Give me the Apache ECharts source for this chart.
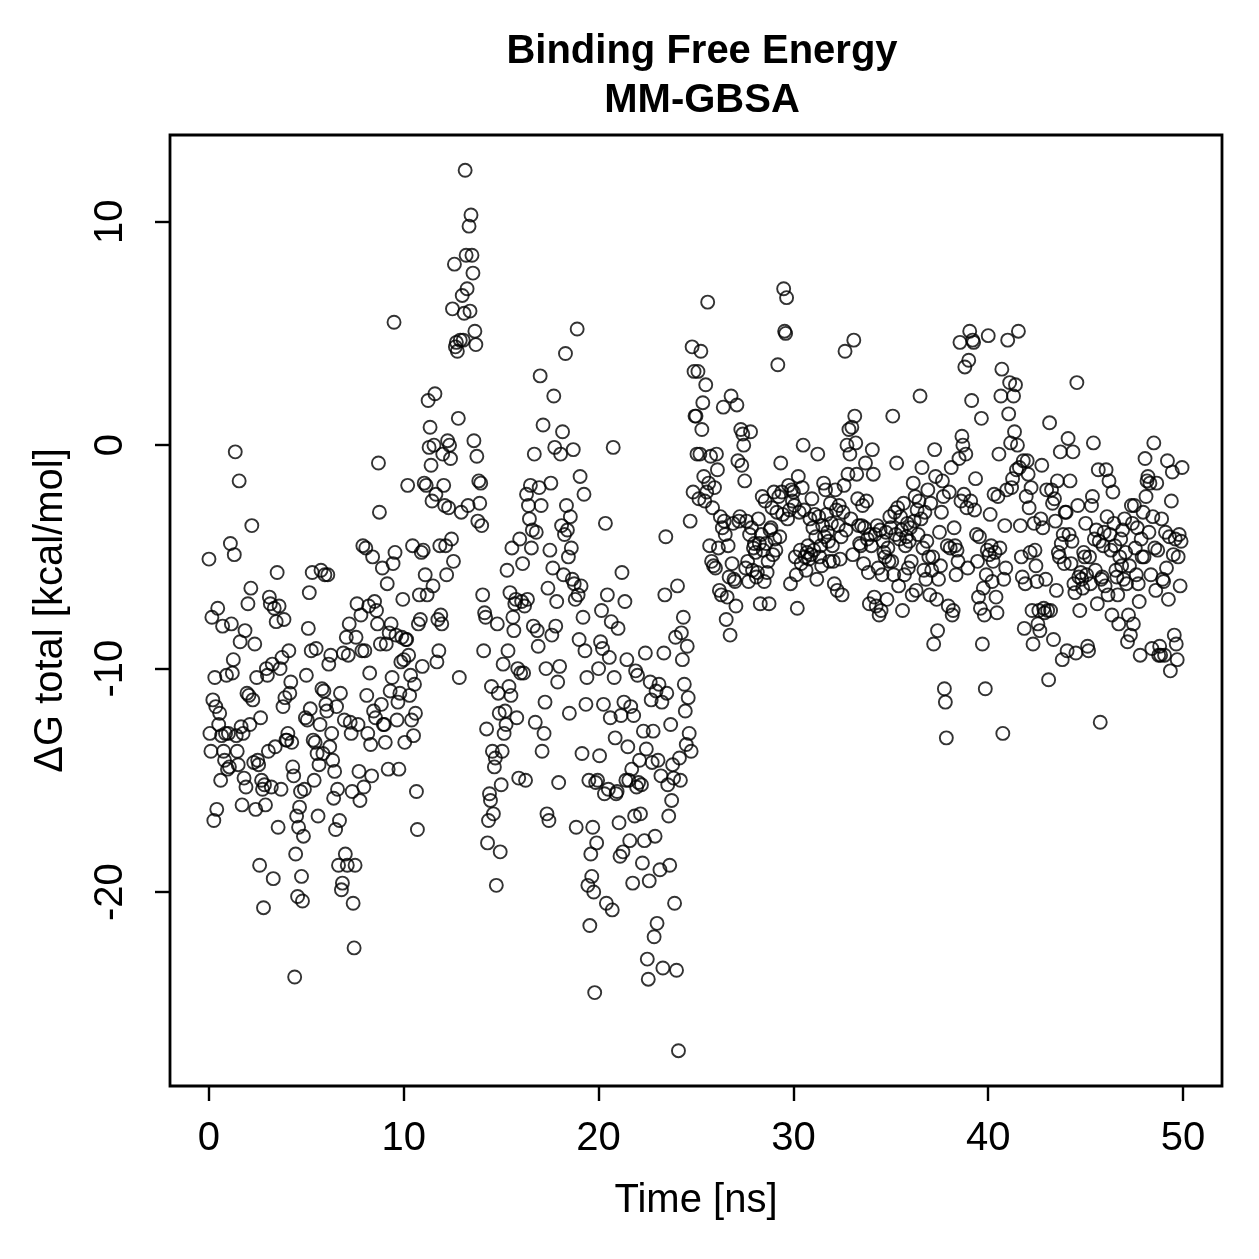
<!DOCTYPE html>
<html>
<head>
<meta charset="utf-8">
<script src="https://cdn.jsdelivr.net/npm/echarts@6/dist/echarts.min.js"></script>
<style>
  html, body { margin: 0; padding: 0; background: #fff; }
  #main { width: 1259px; height: 1259px; }
</style>
</head>
<body>
<div id="main"></div>
<script>
// one frame every 0.05 ns, 20 frames per ns
var dt = 0.05;

// dG total (kcal/mol), 0 - 10 ns
var dG_0_10 = [
  -5.1, -12.9, -13.7, -7.7, -11.4, -16.8, -10.4, -11.7, -16.3, -7.3, -12.5, -12.0, -15.0, -13.0, -8.1, -13.7, -14.1, -12.9, -10.3, -14.5,
  -12.9, -14.4, -4.4, -8.0, -10.2, -9.6, -4.9, -0.3, -13.0, -13.7, -14.3, -1.6, -8.8, -12.6, -16.1, -12.9, -14.9, -8.3, -15.3, -11.1,
  -7.1, -11.2, -12.5, -6.4, -3.6, -11.4, -14.2, -8.9, -16.3, -10.4, -14.1, -14.3, -18.8, -12.2, -15.0, -15.4, -20.7, -15.2, -16.1, -10.0,
  -10.3, -13.7, -6.8, -7.1, -15.3, -9.8, -19.4, -7.3, -13.5, -7.9, -5.7, -17.1, -7.2, -10.0, -15.4, -9.5, -11.7, -7.8, -11.3, -13.2,
  -13.2, -12.9, -9.2, -11.1, -10.6, -13.3, -14.4, -14.8, -23.8, -18.3, -16.6, -20.2, -17.1, -16.2, -15.5, -19.3, -20.4, -17.5, -15.4, -12.2,
  -10.3, -12.3, -8.2, -6.6, -11.8, -9.2, -5.7, -13.2, -15.0, -13.3, -9.1, -13.8, -16.6, -14.3, -12.5, -5.6, -10.9, -13.8, -11.0, -5.8,
  -11.6, -11.9, -5.8, -9.8, -13.5, -9.4, -12.9, -14.1, -15.8, -14.6, -17.2, -11.7, -15.4, -18.8, -16.8, -11.1, -19.9, -19.6, -9.3, -12.3,
  -18.3, -8.6, -18.8, -9.4, -8.0, -12.4, -12.9, -15.5, -20.5, -22.5, -18.8, -8.6, -7.1, -12.5, -14.6, -15.9, -7.6, -9.2, -4.5, -15.3,
  -9.2, -4.6, -11.2, -12.9, -7.2, -10.2, -13.4, -14.8, -5.0, -11.9, -7.0, -12.2, -7.4, -8.0, -0.8, -3.0, -8.9, -11.6, -5.5, -12.5,
  -12.5, -13.3, -8.9, -6.2, -14.5, -8.4, -11.0, -8.0, -10.4, -5.3, 5.5, -4.8, -8.5, -12.3, -11.5, -14.5, -11.1, -9.7, -8.6, -6.9
];

// 10 - 20 ns
var dG_10_20 = [
  -9.6, -13.3, -8.7, -8.7, -1.8, -9.4, -11.2, -10.3, -12.3, -4.5, -13.0, -10.7, -12.0, -15.5, -17.2, -8.0, -6.7, -7.8, -4.8, -9.9,
  -4.7, -1.7, -5.8, -1.8, -6.7, 2.0, -0.1, 0.8, -0.9, -2.5, -6.3, 0.0, 2.3, -2.2, -9.7, -7.8, -9.2, -4.5, -7.6, -8.0,
  -0.4, -1.8, -2.7, -4.5, -5.8, 0.2, -2.8, 0.0, -0.6, -4.2, 6.1, -5.2, 8.1, 4.4, 4.6, 4.2, 1.2, -10.4, 4.7, -3.0,
  6.7, 4.7, 5.9, 12.3, 8.5, 7.0, -2.7, 9.8, 6.0, 10.3, 8.5, 7.7, 0.2, 5.1, 4.5, -0.5, -3.4, -1.6, -2.6, -1.7,
  -3.6, -6.7, -9.2, -7.5, -7.7, -12.7, -17.8, -16.8, -15.6, -15.9, -10.8, -13.7, -16.5, -14.4, -14.0, -19.7, -8.0, -11.1, -12.0, -18.2,
  -15.2, -13.7, -9.8, -12.9, -11.9, -12.5, -5.6, -9.2, -10.8, -6.6, -11.2, -4.6, -7.7, -8.3, -7.1, -6.9, -12.2, -10.0, -14.9, -4.2,
  -10.2, -7.0, -5.3, -10.2, -7.2, -15.0, -2.2, -6.9, -2.7, -3.3, -1.8, -4.6, -3.8, -8.1, -0.4, -12.4, -3.9, -8.3, -9.0, -1.9,
  3.1, -2.7, -13.7, 0.9, -12.9, -11.5, -10.0, -16.5, -6.4, -16.8, -4.7, -1.7, -8.5, -5.5, 2.2, -0.1, -8.1, -7.0, -10.6, -15.1,
  -9.9, -0.4, -3.6, 0.6, -5.8, -4.0, 4.1, -2.7, -3.8, -5.0, -12.0, -3.2, -4.6, -6.0, -0.2, -6.2, -6.9, -17.1, 5.2, -6.7,
  -8.7, -1.4, -6.3, -13.8, -7.7, -2.2, -9.2, -11.6, -10.4, -19.7, -15.0, -21.5, -18.3, -19.3, -17.1, -20.0, -24.5, -15.1, -17.8, -15.0
];

// 20 - 30 ns
var dG_20_30 = [
  -10.0, -13.9, -8.8, -7.4, -9.1, -11.6, -15.6, -3.5, -20.5, -6.7, -15.4, -9.5, -12.2, -7.9, -20.8, -0.1, -10.4, -13.1, -15.6, -15.5,
  -8.2, -16.9, -18.4, -12.1, -5.7, -18.2, -11.5, -7.0, -15.0, -9.6, -13.5, -15.0, -17.7, -11.7, -14.5, -19.6, -12.1, -16.6, -10.1, -15.3,
  -10.3, -15.1, -14.1, -16.5, -15.2, -18.7, -12.8, -17.7, -9.3, -13.6, -23.0, -23.9, -19.5, -10.6, -11.4, -14.2, -12.8, -22.0, -17.5, -11.0,
  -21.4, -14.1, -10.7, -19.0, -14.8, -11.5, -23.4, -9.3, -6.7, -4.1, -11.1, -15.2, -16.6, -18.8, -12.5, -15.9, -14.3, -14.9, -20.5, -8.6,
  -23.5, -6.3, -27.1, -14.0, -15.0, -8.4, -9.6, -7.7, -10.7, -11.9, -13.4, -9.0, -11.3, -12.9, -3.4, -13.7, 4.4, -2.1, 3.3, 1.3,
  1.3, -0.4, 3.3, -2.4, -0.4, 4.2, 0.7, 1.9, -1.4, -2.5, 2.7, -2.1, 6.4, -1.7, -4.5, -0.5, -5.2, -2.8, -5.4, -1.9,
  -5.5, -0.4, -1.1, -4.6, -6.5, -3.2, -6.7, -3.7, 1.7, -3.4, -4.0, -7.8, -6.8, -4.5, -5.9, -8.5, 2.2, -5.3, -3.5, -6.0,
  -6.1, -7.2, 1.8, -0.7, -3.4, -3.2, 0.7, -0.9, 0.5, 0.0, -1.6, -5.5, -3.4, -5.2, -6.1, -4.0, 0.6, -3.7, -5.6, -4.6,
  -4.4, -4.8, -5.9, -5.7, -3.3, -4.4, -7.1, -4.0, -2.3, -4.7, -6.1, -2.5, -4.4, -5.7, -5.2, -7.1, -3.8, -3.7, -2.8, -4.9,
  -2.1, -4.2, -4.7, -3.0, 3.6, -2.3, -4.1, -0.8, -2.1, -3.1, 7.0, 5.1, 5.0, 6.6, -3.3, -1.8, -2.9, -6.2, -2.0, -2.5
];

// 30 - 40 ns
var dG_30_40 = [
  -2.1, -2.7, -5.0, -5.8, -7.3, -1.4, -3.0, -4.7, -5.3, -1.9, 0.0, -2.9, -5.0, -5.6, -4.8, -4.5, -5.1, -3.3, -4.9, -2.4,
  -3.7, -4.7, -3.1, -4.1, -6.0, -0.4, -3.2, -5.0, -4.5, -5.4, -3.6, -1.7, -4.1, -2.0, -3.1, -3.9, -4.3, -5.2, -2.6, -3.5,
  -4.5, -5.2, -6.2, -2.0, -2.9, -6.5, -3.6, -2.7, -5.1, -4.1, -6.7, -3.0, -1.8, 4.2, -3.8, 0.0, -1.3, 0.7, -0.4, -3.3,
  0.8, -4.9, 4.7, 1.3, 0.1, -1.3, -2.4, -3.6, -4.4, -4.5, -3.6, -2.7, -5.3, -3.7, -0.8, -2.5, -4.2, -5.7, -7.1, -4.0,
  -4.5, -0.2, -1.3, -6.8, -4.0, -7.2, -3.6, -5.5, -7.6, -3.8, -7.4, -5.8, -4.3, -4.8, -5.0, -3.9, -6.9, -4.6, -5.2, -3.2,
  -3.7, -5.2, 1.3, -5.8, -3.0, -4.0, -0.8, -2.8, -6.3, -4.2, -3.2, -3.8, -7.4, -2.6, -5.8, -4.5, -4.1, -3.5, -5.5, -4.3,
  -3.7, -5.2, -6.7, -1.7, -3.4, -2.3, -6.5, -2.9, -4.0, -2.5, 2.2, -3.3, -1.0, -4.6, -5.6, -3.0, -6.0, -4.3, -2.0, -5.0,
  -6.7, -2.6, -5.6, -5.0, -8.9, -0.2, -1.4, -6.9, -8.3, -6.0, -3.9, -5.4, -3.0, -1.6, -2.3, -10.9, -11.5, -13.1, -4.5, -7.2,
  -2.1, -4.6, -1.0, -7.6, -7.4, -3.7, -4.5, -5.8, -4.7, -5.2, -0.6, 4.6, -2.5, 0.4, 0.0, -2.2, 3.5, -0.4, -2.8, -5.5,
  3.8, 5.1, -2.5, 2.0, 4.7, 4.6, -2.9, -1.5, -4.0, -5.2, -6.8, -4.1, -7.3, 1.2, -8.9, -6.4, -7.6, -10.9, -5.8, -4.7
];

// 40 - 50 ns
var dG_40_50 = [
  4.9, -4.9, -3.1, -4.5, -6.1, -5.2, -2.2, -4.8, -6.8, -7.5, -2.3, -0.4, -4.6, 2.2, 3.4, -12.9, -6.0, -3.6, -5.5, -2.0,
  4.7, 1.4, 2.8, 0.1, -1.9, -1.5, 2.2, 0.6, 2.7, -1.1, 0.0, 5.1, -1.0, -3.6, -5.0, -5.9, -0.7, -8.2, -6.2, -2.3,
  -0.7, -1.3, -2.8, -4.8, -1.9, -7.4, -8.9, -3.5, -4.7, -5.4, -6.1, -8.0, -7.4, -8.3, -3.3, -0.9, -3.7, -7.3, -7.5, -6.0,
  -2.0, -7.4, -10.5, 1.0, -7.4, -2.0, -2.6, -8.7, -2.4, -3.4, -6.5, -1.6, -4.8, -5.0, -0.3, -4.4, -9.6, -4.0, -5.3, -3.0,
  -3.0, -9.2, 0.3, -4.0, -1.6, -5.3, -4.3, -0.3, -6.2, -6.6, -9.3, 2.8, -2.7, -5.9, -7.4, -5.7, -6.0, -6.4, -4.8, -5.0,
  -3.5, -5.8, -9.0, -9.2, -5.0, -6.2, -2.7, -2.3, 0.1, -4.2, -5.6, -3.8, -7.1, -1.1, -4.3, -12.4, -6.0, -5.9, -4.5, -3.9,
  -6.3, -1.1, -3.2, -6.7, -1.6, -4.0, -4.7, -7.6, -2.1, -3.5, -4.5, -5.6, -5.9, -6.7, -8.0, -5.0, -4.2, -5.4, -3.8, -6.0,
  -3.3, -4.8, -6.2, -8.8, -7.6, -5.4, -8.5, -2.7, -3.5, -8.0, -2.7, -4.6, -5.8, -3.7, -6.2, -7.0, -9.4, -4.2, -5.0, -3.0,
  -5.0, -0.6, -2.3, -1.6, -1.4, -3.9, -1.7, -5.8, -9.1, -3.2, 0.1, -4.6, -6.5, -1.7, -4.7, -9.4, -9.0, -9.4, -3.3, -6.0,
  -6.1, -9.4, -3.9, -5.5, -0.7, -6.9, -4.1, -10.1, -2.5, -1.2, -4.9, -8.5, -4.2, -8.9, -9.6, -5.0, -4.0, -6.3, -4.3, -1.0
];

var xTicks = [0, 10, 20, 30, 40, 50];
var yTicks = [-20, -10, 0, 10];

var dG = [].concat(dG_0_10, dG_10_20, dG_20_30, dG_30_40, dG_40_50);
var points = [];
for (var i = 0; i < dG.length; i++) {
  points.push([+(i * dt).toFixed(2), dG[i]]);
}

var font = 'Liberation Sans, Arial, Helvetica, sans-serif';

var myChart = echarts.init(document.getElementById('main'), null, { renderer: 'canvas' });

var option = {
  backgroundColor: '#ffffff',
  animation: false,
  title: {
    text: 'Binding Free Energy\nMM-GBSA',
    left: 697,
    textAlign: 'center',
    top: 22,
    textStyle: {
      fontFamily: font,
      fontWeight: 'bold',
      fontSize: 40,
      lineHeight: 49,
      color: '#000'
    }
  },
  grid: {
    left: 170,
    right: 37,
    top: 135,
    bottom: 173,
    show: true,
    borderColor: '#000',
    borderWidth: 2.8,
    backgroundColor: 'transparent'
  },
  xAxis: {
    type: 'value',
    min: -2,
    max: 52,
    name: 'Time [ns]',
    nameLocation: 'middle',
    nameGap: 95,
    nameTextStyle: { fontFamily: font, fontSize: 40, color: '#000' },
    axisLine: { show: false, onZero: false },
    splitLine: { show: false },
    axisTick: {
      show: true,
      inside: false,
      length: 15,
      customValues: xTicks,
      lineStyle: { color: '#000', width: 2.4 }
    },
    axisLabel: {
      customValues: xTicks,
      margin: 33,
      fontFamily: font,
      fontSize: 40,
      color: '#000'
    }
  },
  yAxis: {
    type: 'value',
    min: -28.68,
    max: 13.88,
    name: 'ΔG total [kcal/mol]',
    nameLocation: 'middle',
    nameGap: 99,
    nameRotate: 90,
    nameTextStyle: { fontFamily: font, fontSize: 40, color: '#000' },
    axisLine: { show: false, onZero: false },
    splitLine: { show: false },
    axisTick: {
      show: true,
      inside: false,
      length: 15,
      customValues: yTicks,
      lineStyle: { color: '#000', width: 2.4 }
    },
    axisLabel: {
      customValues: yTicks,
      rotate: 90,
      margin: 39,
      fontFamily: font,
      fontSize: 40,
      color: '#000'
    }
  },
  series: [
    {
      type: 'scatter',
      data: points,
      symbol: 'circle',
      symbolSize: 13,
      itemStyle: {
        color: 'rgba(0,0,0,0)',
        borderColor: '#000',
        borderWidth: 1.9
      },
      emphasis: { disabled: true }
    }
  ]
};

myChart.setOption(option);
</script>
</body>
</html>
